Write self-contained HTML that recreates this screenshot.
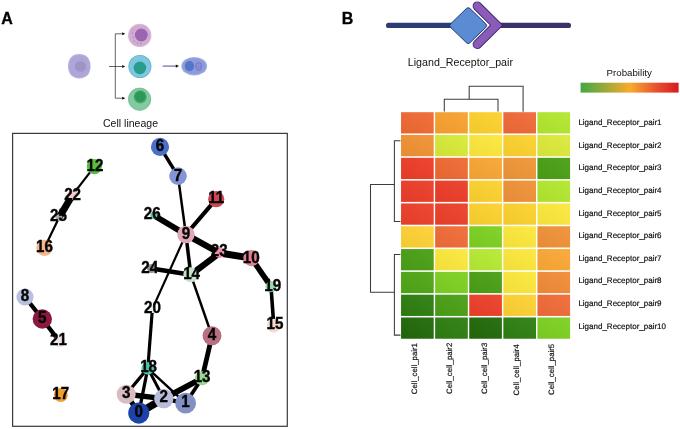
<!DOCTYPE html>
<html lang="en"><head><meta charset="utf-8"><title>Figure</title>
<style>html,body{margin:0;padding:0;background:#fff}body{width:680px;height:429px;overflow:hidden}svg{display:block}text{font-family:"Liberation Sans",Arial,sans-serif;fill:#111}.nl{font-weight:bold;font-size:16px;text-anchor:middle;fill:#050505;stroke:#050505;stroke-width:.38px}.rl{font-size:8px;fill:#0c0c0c;text-rendering:geometricPrecision;stroke:#0c0c0c;stroke-width:.18px}.pl{font-weight:bold;font-size:16px;fill:#000;stroke:#000;stroke-width:.3px}</style></head><body>
<svg width="680" height="429" viewBox="0 0 680 429">
<rect width="680" height="429" fill="#fff"/>
<text class="pl" x="1.2" y="24.2">A</text>
<text class="pl" x="341.8" y="24">B</text>
<g id="cells">
<path d="M68.00 66.30C68.00 58.74 72.29 54.10 79.30 54.10S90.60 58.74 90.60 66.30S86.31 78.50 79.30 78.50S68.00 73.86 68.00 66.30Z" fill="#b9b0de"/><path d="M69.30 66.30C69.30 59.42 73.18 55.20 79.50 55.20S89.70 59.42 89.70 66.30S85.82 77.40 79.50 77.40S69.30 73.18 69.30 66.30Z" fill="#aea5d8"/><circle cx="80.4" cy="66.4" r="5.5" fill="#a193c3"/>
<g stroke="#222" stroke-width="0.7" fill="none"><path d="M109 66.5H124"/><path d="M124 33.8H115.3V98.2H124"/></g>
<g fill="#111"><path d="M125.2 33.8l-3-1.5v3z"/><path d="M125.2 66.5l-3-1.5v3z"/><path d="M125.2 98.2l-3-1.5v3z"/></g>
<circle cx="139.7" cy="35.4" r="11.7" fill="#dabcda"/><circle cx="139.7" cy="35.4" r="10.7" fill="#d0acd1"/><circle cx="141.3" cy="35" r="6.4" fill="#9a65b1"/>
<g fill="#9a68b0"><circle cx="132.5" cy="33" r=".5"/><circle cx="133.5" cy="37.5" r=".5"/><circle cx="134.5" cy="41" r=".5"/><circle cx="137.5" cy="43" r=".5"/><circle cx="140.5" cy="43.5" r=".5"/><circle cx="133" cy="29.5" r=".4"/><circle cx="146" cy="27" r=".4"/></g>
<circle cx="139.9" cy="66.5" r="11.5" fill="#4fb0bd"/><circle cx="139.9" cy="66.5" r="10.9" fill="#7fc6df"/><circle cx="139.9" cy="67.9" r="6.3" fill="#2a9c8e"/>
<circle cx="139.6" cy="99.2" r="11.2" fill="#86c9a0" stroke="#5fb887" stroke-width=".7"/><circle cx="140.2" cy="96.8" r="6.6" fill="#4aaa6e"/><circle cx="140.2" cy="96.6" r="5.3" fill="#2c9858"/>
<path d="M162.6 66.1H176.5" stroke="#7c72b0" stroke-width="1.3"/><path d="M179 66.1l-3.2-1.6v3.2z" fill="#111"/>
<ellipse cx="194.2" cy="66.2" rx="12.9" ry="9.3" fill="#a3afe2"/><ellipse cx="194.2" cy="66.2" rx="11.8" ry="8.2" fill="#8b9bdb"/><ellipse cx="189.5" cy="66.1" rx="4.7" ry="5.1" fill="#5674c8"/><ellipse cx="198.6" cy="66.3" rx="3.6" ry="4.8" fill="#8a82d2" fill-opacity=".55"/><ellipse cx="198.6" cy="66.3" rx="2.6" ry="3.7" fill="none" stroke="#7a70c8" stroke-width="1.3" stroke-dasharray="1.1 0.9"/>
</g>
<text x="103" y="127" font-size="11.4" fill="#1c1c26" textLength="55" lengthAdjust="spacingAndGlyphs">Cell lineage</text>
<rect x="12.6" y="133.4" width="274.7" height="292.9" fill="#fff" stroke="#38383e" stroke-width="1.2"/>
<g stroke="#000" stroke-linecap="butt">
<line x1="94.4" y1="166.6" x2="72.6" y2="194.8" stroke-width="2.2"/>
<line x1="72.6" y1="194.8" x2="59.0" y2="217.7" stroke-width="7"/>
<line x1="59.0" y1="217.7" x2="44.4" y2="247.9" stroke-width="2.2"/>
<line x1="25.0" y1="297.0" x2="42.3" y2="319.0" stroke-width="4.3"/>
<line x1="42.3" y1="319.0" x2="59.3" y2="341.2" stroke-width="4.3"/>
<line x1="160.0" y1="146.9" x2="178.0" y2="176.1" stroke-width="3.5"/>
<line x1="178.0" y1="176.1" x2="185.9" y2="234.5" stroke-width="2.5"/>
<line x1="216.2" y1="199.2" x2="185.9" y2="234.5" stroke-width="4.2"/>
<line x1="154.0" y1="215.4" x2="185.9" y2="234.5" stroke-width="5.8"/>
<line x1="185.9" y1="234.5" x2="219.5" y2="253.0" stroke-width="6.2"/>
<line x1="219.5" y1="253.0" x2="251.4" y2="258.1" stroke-width="7"/>
<line x1="185.9" y1="234.5" x2="190.8" y2="274.8" stroke-width="3.5"/>
<line x1="185.9" y1="234.5" x2="152.4" y2="308.9" stroke-width="2.2"/>
<line x1="190.8" y1="274.8" x2="219.5" y2="253.0" stroke-width="6.2"/>
<line x1="151.5" y1="268.6" x2="190.8" y2="274.8" stroke-width="4.6"/>
<line x1="190.8" y1="274.8" x2="212.0" y2="335.8" stroke-width="2.5"/>
<line x1="251.4" y1="258.1" x2="271.0" y2="286.6" stroke-width="5.6"/>
<line x1="271.0" y1="286.6" x2="273.8" y2="325.6" stroke-width="3.6"/>
<line x1="212.0" y1="335.8" x2="202.1" y2="378.3" stroke-width="4.8"/>
<line x1="152.4" y1="308.9" x2="147.8" y2="368.3" stroke-width="3.2"/>
<line x1="147.8" y1="368.3" x2="126.2" y2="394.2" stroke-width="3.3"/>
<line x1="147.8" y1="368.3" x2="138.8" y2="413.1" stroke-width="3.3"/>
<line x1="147.8" y1="368.3" x2="163.8" y2="398.6" stroke-width="3"/>
<line x1="147.8" y1="368.3" x2="185.6" y2="403.2" stroke-width="2.5"/>
<line x1="126.2" y1="394.2" x2="163.8" y2="398.6" stroke-width="5.4"/>
<line x1="126.2" y1="394.2" x2="138.8" y2="413.1" stroke-width="5"/>
<line x1="138.8" y1="413.1" x2="163.8" y2="398.6" stroke-width="7.5"/>
<line x1="163.8" y1="398.6" x2="202.1" y2="378.3" stroke-width="5.8"/>
<line x1="185.6" y1="403.2" x2="202.1" y2="378.3" stroke-width="3.7"/>
<line x1="163.8" y1="398.6" x2="185.6" y2="403.2" stroke-width="4.2"/>
</g>
<circle cx="138.8" cy="413.1" r="10.6" fill="#1c44a8"/>
<circle cx="185.6" cy="403.2" r="10.4" fill="#8490c4"/>
<circle cx="163.8" cy="398.6" r="9.7" fill="#b8bcd8"/>
<circle cx="126.2" cy="394.2" r="9.5" fill="#d8bcc0"/>
<circle cx="212.0" cy="335.8" r="9.5" fill="#b87080"/>
<circle cx="42.3" cy="319.0" r="9.7" fill="#8c1840"/>
<circle cx="160.0" cy="146.9" r="9.1" fill="#4a70c8"/>
<circle cx="178.0" cy="176.1" r="8.8" fill="#8494d4"/>
<circle cx="25.0" cy="297.0" r="8.6" fill="#b8c0e0"/>
<circle cx="185.9" cy="234.5" r="8.7" fill="#e0a8b4"/>
<circle cx="251.4" cy="258.1" r="8.1" fill="#e08090"/>
<circle cx="216.2" cy="199.2" r="8.1" fill="#cc4850"/>
<circle cx="94.4" cy="166.6" r="7.6" fill="#58c040"/>
<circle cx="202.1" cy="378.3" r="7.1" fill="#98d890"/>
<circle cx="190.8" cy="274.8" r="7.5" fill="#c8e4c8"/>
<circle cx="273.8" cy="325.6" r="6.8" fill="#f3dccf"/>
<circle cx="44.4" cy="247.9" r="8.1" fill="#f4b890"/>
<circle cx="60.8" cy="395.0" r="7.0" fill="#f0a030"/>
<circle cx="147.8" cy="368.3" r="6.3" fill="#50c0a8"/>
<circle cx="271.0" cy="286.6" r="5.6" fill="#9cd8ac"/>
<circle cx="152.4" cy="308.9" r="4.0" fill="#e4f2ea"/>
<circle cx="59.3" cy="341.2" r="6.0" fill="#f4e4e8"/>
<circle cx="72.6" cy="194.8" r="5.0" fill="#f3cacf"/>
<circle cx="219.5" cy="253.0" r="5.0" fill="#f090a8"/>
<circle cx="151.5" cy="268.6" r="4.5" fill="#909090"/>
<circle cx="59.0" cy="217.7" r="3.5" fill="#a8a8a8"/>
<circle cx="154.0" cy="215.4" r="3.6" fill="#60c0a0"/>
<text class="nl" transform="translate(138.8 417) scale(.95 1)">0</text>
<text class="nl" transform="translate(185.6 407) scale(.95 1)">1</text>
<text class="nl" transform="translate(163.8 402) scale(.95 1)">2</text>
<text class="nl" transform="translate(126.2 398) scale(.95 1)">3</text>
<text class="nl" transform="translate(212.0 340) scale(.95 1)">4</text>
<text class="nl" transform="translate(42.3 323) scale(.95 1)">5</text>
<text class="nl" transform="translate(160.0 151) scale(.95 1)">6</text>
<text class="nl" transform="translate(178.0 181) scale(.95 1)">7</text>
<text class="nl" transform="translate(25.0 301) scale(.95 1)">8</text>
<text class="nl" transform="translate(185.9 239) scale(.95 1)">9</text>
<text class="nl" transform="translate(251.2 263) scale(.95 1)">10</text>
<text class="nl" transform="translate(216.2 203) scale(.95 1)">11</text>
<text class="nl" transform="translate(95.0 171) scale(.95 1)">12</text>
<text class="nl" transform="translate(202.1 382) scale(.95 1)">13</text>
<text class="nl" transform="translate(191.6 279) scale(.95 1)">14</text>
<text class="nl" transform="translate(275.0 329) scale(.95 1)">15</text>
<text class="nl" transform="translate(44.4 252) scale(.95 1)">16</text>
<text class="nl" transform="translate(60.8 399) scale(.95 1)">17</text>
<text class="nl" transform="translate(148.6 372) scale(.95 1)">18</text>
<text class="nl" transform="translate(272.7 291) scale(.95 1)">19</text>
<text class="nl" transform="translate(152.4 313) scale(.95 1)">20</text>
<text class="nl" transform="translate(58.5 345) scale(.95 1)">21</text>
<text class="nl" transform="translate(72.6 200) scale(.95 1)">22</text>
<text class="nl" transform="translate(219.2 256) scale(.95 1)">23</text>
<text class="nl" transform="translate(149.8 273) scale(.95 1)">24</text>
<text class="nl" transform="translate(58.5 221) scale(.95 1)">25</text>
<text class="nl" transform="translate(152.3 219) scale(.95 1)">26</text>
<g id="lr">
<path d="M388.6 25.4H455" stroke="#2d3c72" stroke-width="5.2" stroke-linecap="round"/>
<path d="M495 25.4H568.4" stroke="#3b3068" stroke-width="5.2" stroke-linecap="round"/>
<path d="M477.3 6.1L496.6 25.2L477.3 44.3" fill="none" stroke="#3a2070" stroke-width="9.4" stroke-linecap="round" stroke-linejoin="miter"/>
<path d="M477.3 6.1L496.6 25.2L477.3 44.3" fill="none" stroke="#8b5bb8" stroke-width="7.6" stroke-linecap="round" stroke-linejoin="miter"/>
<path d="M450.55 27.29Q448.80 25.60 450.55 23.91L466.45 8.49Q468.20 6.80 469.95 8.49L485.85 23.91Q487.60 25.60 485.85 27.29L469.95 42.71Q468.20 44.40 466.45 42.71Z" fill="#5b8bd2" stroke="#1d3b7a" stroke-width="1"/>
</g>
<text x="407.8" y="66" font-size="11.4" fill="#1c1c26" textLength="105.2" lengthAdjust="spacingAndGlyphs">Ligand_Receptor_pair</text>
<defs><linearGradient id="pg" x1="0" x2="1" y1="0" y2="0"><stop offset="0" stop-color="#3fa844"/><stop offset="0.5" stop-color="#f8ab2c"/><stop offset="0.78" stop-color="#e85030"/><stop offset="1" stop-color="#d41c20"/></linearGradient><linearGradient id="cg" x1="0" y1="1" x2="1" y2="0"><stop offset="0" stop-color="#000" stop-opacity=".045"/><stop offset="1" stop-color="#fff" stop-opacity=".045"/></linearGradient></defs>
<text x="606.6" y="76" font-size="9.7" fill="#222">Probability</text>
<rect x="580.6" y="82.7" width="98" height="9.9" fill="url(#pg)"/>
<g fill="none" stroke="#3c3c3c" stroke-width="1.05">
<path d="M469.2 99.3V86.3H523.1V111.8"/><path d="M444.3 111.5V99.3H498V111.5"/>
<path d="M400.5 140.8H394.4V221.5H400.5"/><path d="M400.5 254.4H394.4V335.1H400.5"/><path d="M394.4 184.4H370.5V292.3H394.4"/>
</g>
<rect x="401.05" y="112.20" width="32.65" height="21.25" fill="#f06a34"/>
<rect x="401.05" y="112.20" width="32.65" height="21.25" fill="url(#cg)"/>
<rect x="435.15" y="112.20" width="32.65" height="21.25" fill="#f8a230"/>
<rect x="435.15" y="112.20" width="32.65" height="21.25" fill="url(#cg)"/>
<rect x="469.25" y="112.20" width="32.65" height="21.25" fill="#fdd22e"/>
<rect x="469.25" y="112.20" width="32.65" height="21.25" fill="url(#cg)"/>
<rect x="503.35" y="112.20" width="32.65" height="21.25" fill="#f06a38"/>
<rect x="503.35" y="112.20" width="32.65" height="21.25" fill="url(#cg)"/>
<rect x="537.45" y="112.20" width="32.65" height="21.25" fill="#b2e82e"/>
<rect x="537.45" y="112.20" width="32.65" height="21.25" fill="url(#cg)"/>
<rect x="401.05" y="135.01" width="32.65" height="21.25" fill="#f09234"/>
<rect x="401.05" y="135.01" width="32.65" height="21.25" fill="url(#cg)"/>
<rect x="435.15" y="135.01" width="32.65" height="21.25" fill="#d8ea38"/>
<rect x="435.15" y="135.01" width="32.65" height="21.25" fill="url(#cg)"/>
<rect x="469.25" y="135.01" width="32.65" height="21.25" fill="#fde83c"/>
<rect x="469.25" y="135.01" width="32.65" height="21.25" fill="url(#cg)"/>
<rect x="503.35" y="135.01" width="32.65" height="21.25" fill="#fdd22e"/>
<rect x="503.35" y="135.01" width="32.65" height="21.25" fill="url(#cg)"/>
<rect x="537.45" y="135.01" width="32.65" height="21.25" fill="#dcea3a"/>
<rect x="537.45" y="135.01" width="32.65" height="21.25" fill="url(#cg)"/>
<rect x="401.05" y="157.82" width="32.65" height="21.25" fill="#ec3e2a"/>
<rect x="401.05" y="157.82" width="32.65" height="21.25" fill="url(#cg)"/>
<rect x="435.15" y="157.82" width="32.65" height="21.25" fill="#f06a34"/>
<rect x="435.15" y="157.82" width="32.65" height="21.25" fill="url(#cg)"/>
<rect x="469.25" y="157.82" width="32.65" height="21.25" fill="#f8a634"/>
<rect x="469.25" y="157.82" width="32.65" height="21.25" fill="url(#cg)"/>
<rect x="503.35" y="157.82" width="32.65" height="21.25" fill="#f09638"/>
<rect x="503.35" y="157.82" width="32.65" height="21.25" fill="url(#cg)"/>
<rect x="537.45" y="157.82" width="32.65" height="21.25" fill="#4aa016"/>
<rect x="537.45" y="157.82" width="32.65" height="21.25" fill="url(#cg)"/>
<rect x="401.05" y="180.63" width="32.65" height="21.25" fill="#ec3e2a"/>
<rect x="401.05" y="180.63" width="32.65" height="21.25" fill="url(#cg)"/>
<rect x="435.15" y="180.63" width="32.65" height="21.25" fill="#ec3e2a"/>
<rect x="435.15" y="180.63" width="32.65" height="21.25" fill="url(#cg)"/>
<rect x="469.25" y="180.63" width="32.65" height="21.25" fill="#fdd22e"/>
<rect x="469.25" y="180.63" width="32.65" height="21.25" fill="url(#cg)"/>
<rect x="503.35" y="180.63" width="32.65" height="21.25" fill="#f09238"/>
<rect x="503.35" y="180.63" width="32.65" height="21.25" fill="url(#cg)"/>
<rect x="537.45" y="180.63" width="32.65" height="21.25" fill="#b2e82e"/>
<rect x="537.45" y="180.63" width="32.65" height="21.25" fill="url(#cg)"/>
<rect x="401.05" y="203.44" width="32.65" height="21.25" fill="#ec402a"/>
<rect x="401.05" y="203.44" width="32.65" height="21.25" fill="url(#cg)"/>
<rect x="435.15" y="203.44" width="32.65" height="21.25" fill="#ec402a"/>
<rect x="435.15" y="203.44" width="32.65" height="21.25" fill="url(#cg)"/>
<rect x="469.25" y="203.44" width="32.65" height="21.25" fill="#fdd22e"/>
<rect x="469.25" y="203.44" width="32.65" height="21.25" fill="url(#cg)"/>
<rect x="503.35" y="203.44" width="32.65" height="21.25" fill="#fdd22e"/>
<rect x="503.35" y="203.44" width="32.65" height="21.25" fill="url(#cg)"/>
<rect x="537.45" y="203.44" width="32.65" height="21.25" fill="#fde83c"/>
<rect x="537.45" y="203.44" width="32.65" height="21.25" fill="url(#cg)"/>
<rect x="401.05" y="226.25" width="32.65" height="21.25" fill="#fdd234"/>
<rect x="401.05" y="226.25" width="32.65" height="21.25" fill="url(#cg)"/>
<rect x="435.15" y="226.25" width="32.65" height="21.25" fill="#f06c38"/>
<rect x="435.15" y="226.25" width="32.65" height="21.25" fill="url(#cg)"/>
<rect x="469.25" y="226.25" width="32.65" height="21.25" fill="#7ed022"/>
<rect x="469.25" y="226.25" width="32.65" height="21.25" fill="url(#cg)"/>
<rect x="503.35" y="226.25" width="32.65" height="21.25" fill="#fde83c"/>
<rect x="503.35" y="226.25" width="32.65" height="21.25" fill="url(#cg)"/>
<rect x="537.45" y="226.25" width="32.65" height="21.25" fill="#f09238"/>
<rect x="537.45" y="226.25" width="32.65" height="21.25" fill="url(#cg)"/>
<rect x="401.05" y="249.06" width="32.65" height="21.25" fill="#4aa016"/>
<rect x="401.05" y="249.06" width="32.65" height="21.25" fill="url(#cg)"/>
<rect x="435.15" y="249.06" width="32.65" height="21.25" fill="#fde83c"/>
<rect x="435.15" y="249.06" width="32.65" height="21.25" fill="url(#cg)"/>
<rect x="469.25" y="249.06" width="32.65" height="21.25" fill="#b6ea34"/>
<rect x="469.25" y="249.06" width="32.65" height="21.25" fill="url(#cg)"/>
<rect x="503.35" y="249.06" width="32.65" height="21.25" fill="#fde83c"/>
<rect x="503.35" y="249.06" width="32.65" height="21.25" fill="url(#cg)"/>
<rect x="537.45" y="249.06" width="32.65" height="21.25" fill="#fba836"/>
<rect x="537.45" y="249.06" width="32.65" height="21.25" fill="url(#cg)"/>
<rect x="401.05" y="271.87" width="32.65" height="21.25" fill="#50a616"/>
<rect x="401.05" y="271.87" width="32.65" height="21.25" fill="url(#cg)"/>
<rect x="435.15" y="271.87" width="32.65" height="21.25" fill="#7ed022"/>
<rect x="435.15" y="271.87" width="32.65" height="21.25" fill="url(#cg)"/>
<rect x="469.25" y="271.87" width="32.65" height="21.25" fill="#4aa016"/>
<rect x="469.25" y="271.87" width="32.65" height="21.25" fill="url(#cg)"/>
<rect x="503.35" y="271.87" width="32.65" height="21.25" fill="#fde83c"/>
<rect x="503.35" y="271.87" width="32.65" height="21.25" fill="url(#cg)"/>
<rect x="537.45" y="271.87" width="32.65" height="21.25" fill="#f28c38"/>
<rect x="537.45" y="271.87" width="32.65" height="21.25" fill="url(#cg)"/>
<rect x="401.05" y="294.68" width="32.65" height="21.25" fill="#2e7e12"/>
<rect x="401.05" y="294.68" width="32.65" height="21.25" fill="url(#cg)"/>
<rect x="435.15" y="294.68" width="32.65" height="21.25" fill="#4aa016"/>
<rect x="435.15" y="294.68" width="32.65" height="21.25" fill="url(#cg)"/>
<rect x="469.25" y="294.68" width="32.65" height="21.25" fill="#ec402a"/>
<rect x="469.25" y="294.68" width="32.65" height="21.25" fill="url(#cg)"/>
<rect x="503.35" y="294.68" width="32.65" height="21.25" fill="#fdd234"/>
<rect x="503.35" y="294.68" width="32.65" height="21.25" fill="url(#cg)"/>
<rect x="537.45" y="294.68" width="32.65" height="21.25" fill="#f06c38"/>
<rect x="537.45" y="294.68" width="32.65" height="21.25" fill="url(#cg)"/>
<rect x="401.05" y="317.49" width="32.65" height="21.25" fill="#226a0a"/>
<rect x="401.05" y="317.49" width="32.65" height="21.25" fill="url(#cg)"/>
<rect x="435.15" y="317.49" width="32.65" height="21.25" fill="#2e7e12"/>
<rect x="435.15" y="317.49" width="32.65" height="21.25" fill="url(#cg)"/>
<rect x="469.25" y="317.49" width="32.65" height="21.25" fill="#226a0a"/>
<rect x="469.25" y="317.49" width="32.65" height="21.25" fill="url(#cg)"/>
<rect x="503.35" y="317.49" width="32.65" height="21.25" fill="#2e8012"/>
<rect x="503.35" y="317.49" width="32.65" height="21.25" fill="url(#cg)"/>
<rect x="537.45" y="317.49" width="32.65" height="21.25" fill="#7ed022"/>
<rect x="537.45" y="317.49" width="32.65" height="21.25" fill="url(#cg)"/>
<text class="rl" x="578.4" y="125">Ligand_Receptor_pair1</text>
<text class="rl" x="578.4" y="148">Ligand_Receptor_pair2</text>
<text class="rl" x="578.4" y="170">Ligand_Receptor_pair3</text>
<text class="rl" x="578.4" y="193">Ligand_Receptor_pair4</text>
<text class="rl" x="578.4" y="216">Ligand_Receptor_pair5</text>
<text class="rl" x="578.4" y="238">Ligand_Receptor_pair6</text>
<text class="rl" x="578.4" y="261">Ligand_Receptor_pair7</text>
<text class="rl" x="578.4" y="283">Ligand_Receptor_pair8</text>
<text class="rl" x="578.4" y="306">Ligand_Receptor_pair9</text>
<text class="rl" x="578.4" y="329">Ligand_Receptor_pair10</text>
<text class="rl" style="font-size:7.8px" transform="translate(417.3 394.2) rotate(-90)">Cell_cell_pair1</text>
<text class="rl" style="font-size:7.8px" transform="translate(451.6 393.9) rotate(-90)">Cell_cell_pair2</text>
<text class="rl" style="font-size:7.8px" transform="translate(487.4 393.9) rotate(-90)">Cell_cell_pair3</text>
<text class="rl" style="font-size:7.8px" transform="translate(518.8 395.4) rotate(-90)">Cell_cell_pair4</text>
<text class="rl" style="font-size:7.8px" transform="translate(554.1 395.0) rotate(-90)">Cell_cell_pair5</text>
</svg></body></html>
